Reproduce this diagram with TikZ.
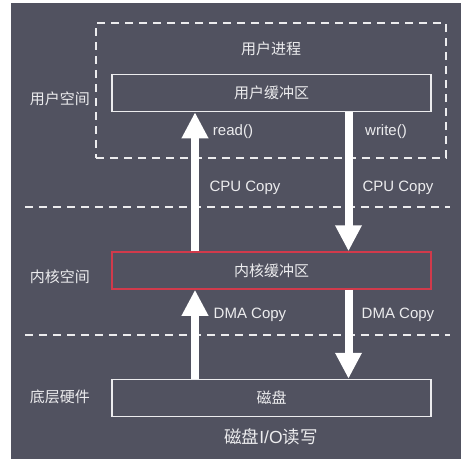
\documentclass[tikz,border=0pt]{standalone}
\usepackage{fontspec}
\setmainfont{Liberation Sans}
\newfontfamily\cjk{Noto Sans CJK SC}
\usetikzlibrary{arrows.meta}
\definecolor{panel}{HTML}{515260}
\definecolor{inkw}{HTML}{ECECEE}
\definecolor{kred}{HTML}{D13A4B}
\begin{document}
\begin{tikzpicture}[
        x=1pt, y=-1pt,
        buf/.style={draw=inkw, line width=1.5pt, minimum width=319pt, minimum height=37pt, inner sep=0pt, text=inkw, font=\fontsize{15}{17}\cjk},
        kbuf/.style={buf, draw=kred},
        side/.style={text=inkw, font=\fontsize{15}{17}\cjk, inner sep=0pt},
        tag/.style={text=inkw, font=\fontsize{15}{17}\selectfont, inner sep=0pt},
        sep/.style={draw=inkw, line width=1.5pt, dash pattern=on 8pt off 6pt},
        flow/.style={draw=white, line width=8pt, -{Triangle[width=25pt, length=26pt]}}
    ]
        \useasboundingbox (0,0) rectangle (475,466);
        \fill[panel] (11,3) rectangle (461,459);

        \node[sep, minimum width=350pt, minimum height=135pt, inner sep=0pt] (proc) at (271,90.5) {};
        \node[side] (proc-t) at (271,49) {用户进程};

        \node[buf] (ubuf) at (271.5,93) {用户缓冲区};
        \node[kbuf] (kbuf) at (271.5,270.5) {内核缓冲区};
        \node[buf] (disk) at (271.5,398) {磁盘};

        \node[side] (user) at (60,99) {用户空间};
        \node[side] (kern) at (60,277) {内核空间};
        \node[side] (hw) at (60,397) {底层硬件};
        \node[text=inkw, font=\fontsize{17.5}{19}\selectfont, inner sep=0pt] (title) at (271,437) {{\cjk 磁盘}I/O{\cjk 读写}};

        \draw[sep] (25,207) -- (450,207);
        \draw[sep] (25,335) -- (450,335);

        \coordinate (rd) at (195,0);
        \coordinate (wr) at (348.5,0);

        \draw[flow] (disk.north -| rd) -- (kbuf.south -| rd);
        \draw[flow] (kbuf.north -| rd) -- (ubuf.south -| rd);
        \draw[flow] (ubuf.south -| wr) -- (kbuf.north -| wr);
        \draw[flow] (kbuf.south -| wr) -- (disk.north -| wr);

        \node[tag] (read) at (233,132) {read()};
        \node[tag] (write) at (386,132) {write()};
        \node[tag] (cpu-r) at (245,188) {CPU Copy};
        \node[tag] (cpu-w) at (398,188) {CPU Copy};
        \node[tag] (dma-r) at (250,315) {DMA Copy};
        \node[tag] (dma-w) at (398,315) {DMA Copy};
    \end{tikzpicture}
\end{document}
